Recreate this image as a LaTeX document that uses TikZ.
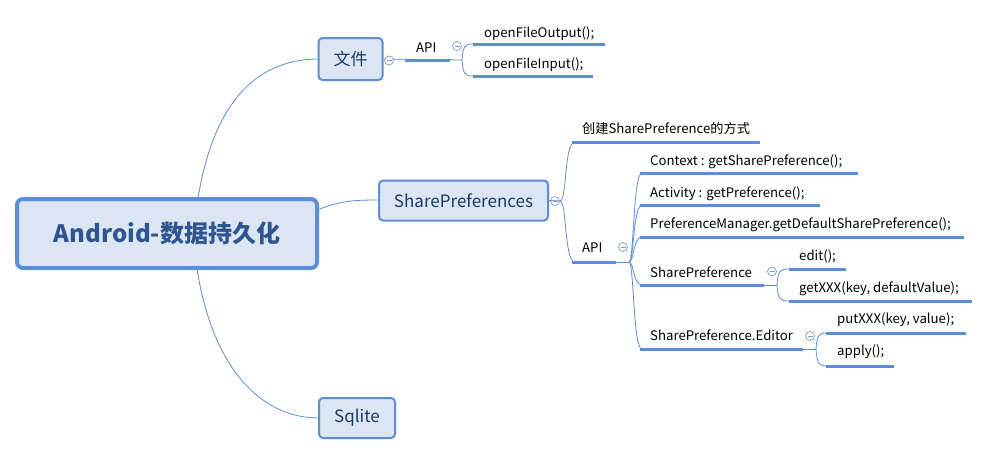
\documentclass[tikz,border=0pt]{standalone}
\usepackage{fontspec}
\setmainfont{Noto Sans CJK SC}
\definecolor{lc}{HTML}{5B8ED6}
\definecolor{bf}{HTML}{DCE6F2}
\definecolor{tc}{HTML}{1F3A60}
\definecolor{rc}{HTML}{2E5590}
\definecolor{cc}{HTML}{7F9CC8}
\begin{document}
\begin{tikzpicture}[x=1pt,y=-1pt,
  topic/.style={draw=lc, fill=bf, rounded corners=4pt, line width=2pt, text=tc,
    font=\fontsize{17}{20}\selectfont, inner sep=0pt},
  rootbox/.style={draw=lc, fill=bf, rounded corners=6pt, line width=4pt, text=rc,
    font=\fontsize{24}{28}\selectfont\bfseries, inner sep=0pt},
  lbl/.style={anchor=base west, inner sep=0pt, font=\fontsize{13.2}{15}\selectfont, text=black},
  uline/.style={draw=lc, line width=3pt},
  thin/.style={draw=lc, line width=0.8pt},
  coll/.style={circle, draw=cc, fill=white, minimum size=9pt, inner sep=0pt, line width=0.7pt,
    path picture={\draw[cc, line width=0.7pt] ([xshift=-2.5pt]path picture bounding box.center) -- ([xshift=2.5pt]path picture bounding box.center);}}
]
\useasboundingbox (0,0) rectangle (990,456);
\fill[white] (0,0) rectangle (990,456);

% root connectors
\coordinate (rt) at (198,198);
\coordinate (rb) at (197,269);
\coordinate (rr) at (317,210);
\draw[thin] (rt) .. controls (215,95) and (262,59) .. (319,59);
\draw[thin] (rr) .. controls (340,201) and (352,200) .. (379,200);
\draw[thin] (rb) .. controls (213,370) and (262,418) .. (319,418);

% main boxes
\node[rootbox, minimum width=300pt, minimum height=69pt] (root) at (167,233.5) {Android-数据持久化};
\node[topic, minimum width=64pt, minimum height=42pt] (file) at (350.5,59) {文件};
\node[topic, minimum width=169pt, minimum height=40pt] (sp) at (463.5,200.5) {SharePreferences};
\node[topic, minimum width=76pt, minimum height=40pt] (sql) at (357,418) {Sqlite};

% ---- 文件 branch
\coordinate (fj) at (462,60);
\draw[thin] (file.east) -- (fj);
\node[coll] (fc) at (389,60.5) {};
\draw[uline] (405,60) -- (450,60);
\node[lbl] (fapi) at (416,52) {API};
\node[coll] (fac) at (457,46) {};
\draw[thin] (fj) .. controls (463,46) and (465,44) .. (473,44);
\draw[thin] (fj) .. controls (463,74) and (465,76) .. (473,76);
\draw[uline] (473,44) -- (605,44);
\draw[uline] (473,76) -- (593,76);
\node[lbl] (fo) at (484,37) {openFileOutput();};
\node[lbl] (fi) at (484,68) {openFileInput();};

% ---- SharePreferences branch
\node[coll] (spc) at (555,201) {};
\coordinate (sj) at (560,201);
\draw[thin] (sp.east) -- (sj);
\draw[thin] (sj) .. controls (567,201) and (564,142) .. (575,142);
\draw[thin] (sj) .. controls (567,201) and (564,262) .. (575,262);
\draw[uline] (572,142) -- (760,142);
\node[lbl] (cj) at (582,133) {创建SharePreference的方式};
\draw[uline] (572,262) -- (616,262);
\node[lbl] (sapi) at (582,252) {API};
\node[coll] (sac) at (623,247) {};
\coordinate (aj) at (629,262);
\draw[thin] (616,262) -- (aj);
\foreach \yy in {173,205,237,285,349}{
  \draw[thin] (aj) .. controls (634,262) and (633,\yy) .. (642,\yy);
}
\draw[uline] (640,173) -- (858,173);
\node[lbl] (ctx) at (650,165) {Context : getSharePreference();};
\draw[uline] (640,205) -- (820,205);
\node[lbl] (act) at (650,197) {Activity : getPreference();};
\draw[uline] (640,237) -- (964,237);
\node[lbl] (pm) at (650,228) {PreferenceManager.getDefaultSharePreference();};

% SharePreference
\draw[uline] (640,285) -- (764,285);
\node[lbl] (spn) at (650,277) {SharePreference};
\coordinate (pj) at (777,285);
\draw[thin] (764,285) -- (pj);
\node[coll] (spnc) at (772,271.5) {};
\draw[thin] (pj) .. controls (778,271) and (780,269) .. (789,269);
\draw[thin] (pj) .. controls (778,299) and (780,301) .. (789,301);
\draw[uline] (789,269) -- (846,269);
\node[lbl] (ed) at (799,260) {edit();};
\draw[uline] (789,301) -- (972,301);
\node[lbl] (gx) at (799,292) {getXXX(key, defaultValue);};

% SharePreference.Editor
\draw[uline] (640,349) -- (803,349);
\node[lbl] (spe) at (650,340) {SharePreference.Editor};
\coordinate (ej) at (816,349);
\draw[thin] (803,349) -- (ej);
\node[coll] (spec) at (810,336) {};
\draw[thin] (ej) .. controls (817,335) and (819,333) .. (827,333);
\draw[thin] (ej) .. controls (817,364) and (819,366) .. (827,366);
\draw[uline] (826,333) -- (966,333);
\node[lbl] (px) at (837,323) {putXXX(key, value);};
\draw[uline] (826,366) -- (894,366);
\node[lbl] (ap) at (837,355) {apply();};
\end{tikzpicture}
\end{document}
